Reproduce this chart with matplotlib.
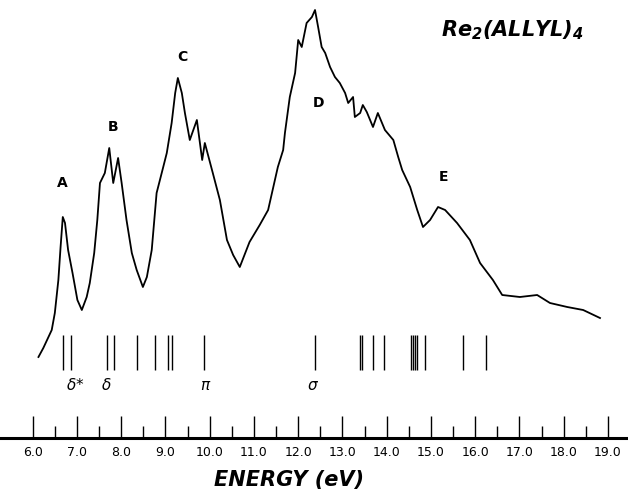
import matplotlib.pyplot as plt

# photoelectron spectrum of Re2(allyl)4
energy = [6.13, 6.24, 6.43, 6.50, 6.58, 6.63, 6.68, 6.73, 6.80, 6.90,
          7.01, 7.11, 7.22, 7.29, 7.39, 7.46, 7.52, 7.63, 7.73, 7.82,
          7.93, 8.01, 8.12, 8.24, 8.35, 8.49, 8.58, 8.69, 8.80, 8.95,
          9.03, 9.14, 9.22, 9.28, 9.37, 9.44, 9.55, 9.71, 9.83, 9.89,
          10.07, 10.23, 10.39, 10.53, 10.68, 10.90, 11.13, 11.32, 11.54, 11.66,
          11.70, 11.81, 11.93, 12.00, 12.08, 12.19, 12.31, 12.38, 12.45, 12.53,
          12.61, 12.72, 12.83, 12.94, 13.06, 13.13, 13.24, 13.28, 13.40, 13.46,
          13.55, 13.69, 13.80, 13.96, 14.15, 14.26, 14.35, 14.53, 14.69, 14.82,
          14.98, 15.16, 15.32, 15.59, 15.88, 16.11, 16.40, 16.61, 17.01, 17.40,
          17.69, 18.08, 18.44, 18.82]
intensity = [13, 22, 40, 57, 90, 123, 153, 147, 120, 97,
             70, 60, 73, 87, 117, 150, 187, 197, 222, 187,
             212, 187, 150, 117, 100, 83, 93, 120, 177, 203,
             217, 247, 277, 292, 277, 257, 230, 250, 210, 227,
             197, 170, 130, 115, 103, 128, 145, 160, 203, 220,
             237, 273, 297, 330, 323, 347, 353, 360, 343, 323,
             317, 303, 293, 287, 277, 267, 273, 253, 257, 265,
             258, 243, 257, 240, 230, 213, 200, 183, 160, 143,
             150, 163, 160, 147, 130, 107, 90, 75, 73, 75,
             67, 63, 60, 52]

# calculated ionization energies (stick diagram)
sticks = [6.69, 6.87, 7.67, 7.84, 8.35, 8.76, 9.05, 9.14, 9.86, 12.38,
          13.40, 13.44, 13.68, 13.95, 14.56, 14.59, 14.64, 14.68, 14.87,
          15.73, 16.24]
stick_height = 35

peak_names = ["A", "B", "C", "D", "E"]
peak_x = [6.66, 7.82, 9.38, 12.45, 15.29]
peak_y = [187, 243, 313, 267, 193]

orbital_names = ["$\\delta$*", "$\\delta$", "$\\pi$", "$\\sigma$"]
orbital_x = [6.96, 7.66, 9.90, 12.33]

major_ticks = [6.0 + i for i in range(14)]
minor_ticks = [6.5 + i for i in range(13)]

plt.rcParams['mathtext.default'] = 'regular'

fig = plt.figure(figsize=(6.28, 4.93), dpi=100)
ax = fig.add_axes([0, 0, 1, 1])

ax.plot(energy, intensity, color="black", linewidth=1.3)
ax.vlines(sticks, 0, stick_height, color="black", linewidth=1.0)

for name, x, y in zip(peak_names, peak_x, peak_y):
    ax.text(x, y, name, ha="center", va="center", fontsize=10,
            fontweight="bold")
for name, x in zip(orbital_names, orbital_x):
    ax.text(x, -15, name, ha="center", va="center", fontsize=11,
            fontstyle="italic")

ax.text(16.85, 340, "Re$_2$(ALLYL)$_4$", ha="center", va="center",
        fontsize=15, fontweight="bold", fontstyle="italic")
ax.text(11.8, -110, "ENERGY (eV)", ha="center", va="center",
        fontsize=15, fontweight="bold", fontstyle="italic")

ax.set_xlim(5.261, 19.453)
ax.set_ylim(-123, 370)

for side in ["top", "left", "right"]:
    ax.spines[side].set_visible(False)
ax.spines["bottom"].set_position(("data", -68))
ax.spines["bottom"].set_linewidth(2.2)
ax.set_yticks([])
ax.set_xticks(major_ticks)
ax.set_xticklabels(["%.1f" % t for t in major_ticks])
ax.set_xticks(minor_ticks, minor=True)
ax.tick_params(axis="x", which="major", direction="in", length=16,
               width=1, labelsize=9, pad=6)
ax.tick_params(axis="x", which="minor", direction="in", length=9, width=1)

fig.savefig("out.png", dpi=100)
